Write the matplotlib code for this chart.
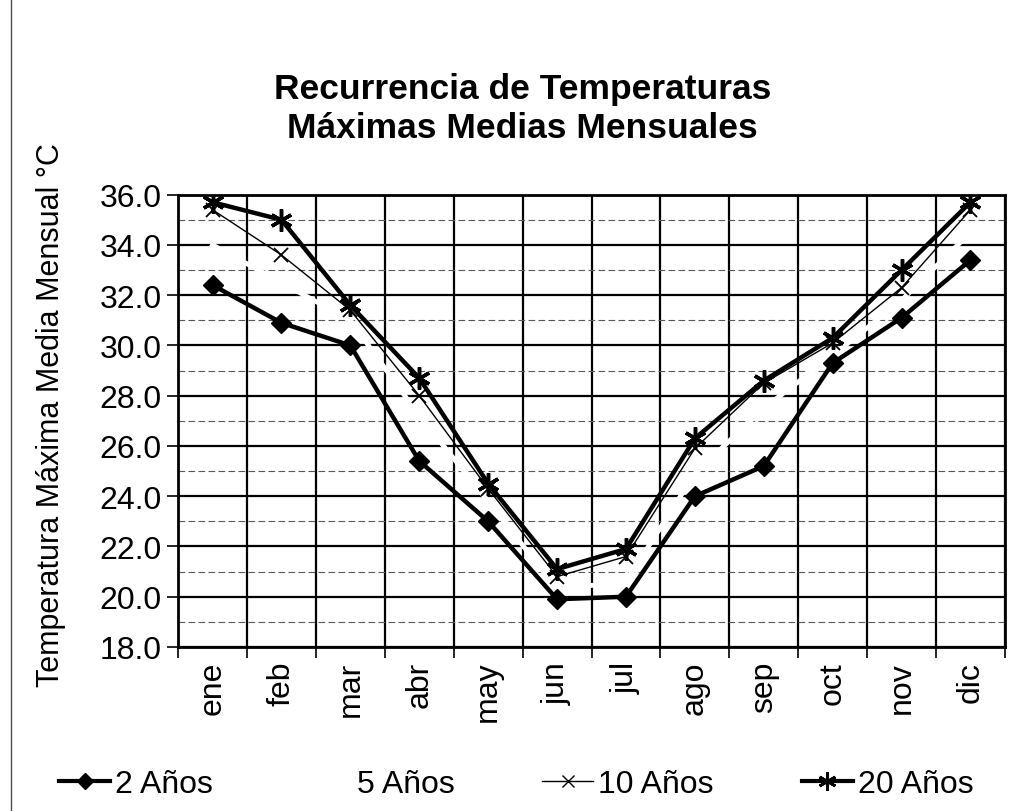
"""Recurrencia de temperaturas maximas medias mensuales - line chart."""

import matplotlib
matplotlib.use('Agg')
import matplotlib.pyplot as plt
from matplotlib.lines import Line2D
from matplotlib.ticker import MultipleLocator, FixedLocator

plt.rcParams['font.family'] = ['Liberation Sans', 'DejaVu Sans']

# Data
months = ['ene', 'feb', 'mar', 'abr', 'may', 'jun',
          'jul', 'ago', 'sep', 'oct', 'nov', 'dic']
t_2 = [32.4, 30.9, 30.0, 25.4, 23.0, 19.9, 20.0, 24.0, 25.2, 29.3, 31.1, 33.4]
t_5 = [34.0, 32.5, 31.0, 27.2, 23.8, 20.3, 20.6, 24.9, 27.5, 29.6, 31.8, 34.5]
t_10 = [35.4, 33.6, 31.4, 28.0, 24.3, 20.8, 21.6, 25.9, 28.5, 30.1, 32.3, 35.4]
t_20 = [35.7, 35.0, 31.6, 28.7, 24.5, 21.1, 21.9, 26.3, 28.6, 30.3, 33.0, 35.7]
labels = ['2 Años', '5 Años', '10 Años', '20 Años']

fig = plt.figure(figsize=(10.12, 8.12), dpi=100)
ax = fig.add_axes([0.176, 0.202, 0.817, 0.557])
x = list(range(len(months)))

# grid: solid every 2, dashed every 1, verticals between months
ax.set_axisbelow(True)
ax.set_ylim(18, 36)
ax.set_xlim(-0.5, len(months) - 0.5)
ax.yaxis.set_major_locator(MultipleLocator(2))
ax.yaxis.set_minor_locator(MultipleLocator(1))
ax.xaxis.set_major_locator(FixedLocator(x))
ax.xaxis.set_minor_locator(FixedLocator([i - 0.5 for i in range(len(months) + 1)]))
ax.grid(True, axis='y', which='major', color='black', lw=1.6)
ax.grid(True, axis='y', which='minor', color='0.35', lw=0.8, linestyle=(0, (6, 3)))
ax.grid(True, axis='x', which='minor', color='black', lw=1.6)

ax.plot(x, t_5, color='white', lw=3.5, label=labels[1], zorder=3)
ax.plot(x, t_2, color='black', lw=3.2, marker='D', ms=10, label=labels[0], zorder=4)
ax.plot(x, t_10, color='black', lw=1.0, marker='x', ms=10, mew=1.3,
        label=labels[2], zorder=4)
ax.plot(x, t_20, color='black', lw=3.2, marker=(6, 2, 0), ms=16, mew=2.5,
        label=labels[3], zorder=5)

ax.set_xticklabels(months, rotation=90, fontsize=23)
ax.yaxis.set_major_formatter(matplotlib.ticker.FormatStrFormatter('%.1f'))
ax.tick_params(axis='y', which='major', labelsize=23, length=8, width=1.2, pad=4)
ax.tick_params(axis='y', which='minor', length=0)
ax.tick_params(axis='x', which='major', length=0, pad=10)
ax.tick_params(axis='x', which='minor', length=8, width=1.2)
for s in ax.spines.values():
    s.set_linewidth(2)

ax.set_ylabel('Temperatura Máxima Media Mensual °C', fontsize=22)
ax.yaxis.set_label_coords(-0.135, 0.515)

fig.text(0.516, 0.866, 'Recurrencia de Temperaturas\nMáximas Medias Mensuales',
         ha='center', va='center', fontsize=25.5, fontweight='bold', linespacing=1.25)

handles = [
    Line2D([], [], color='black', lw=3, marker='D', ms=8),
    Line2D([], [], color='white', lw=3),
    Line2D([], [], color='black', lw=1, marker='x', ms=9),
    Line2D([], [], color='black', lw=3, marker=(6, 2, 0), ms=13, mew=2),
]
fig.legend(handles, labels, loc='center', bbox_to_anchor=(0.03, 0.0, 0.96, 0.066),
           mode='expand', ncol=4, frameon=False, fontsize=23, handlelength=1.6,
           handletextpad=0.15)

# scan border on the left
fig.add_artist(Line2D([0.011, 0.011], [0.0, 1.0], color='0.3', lw=1))

fig.savefig('out.png', dpi=100)
